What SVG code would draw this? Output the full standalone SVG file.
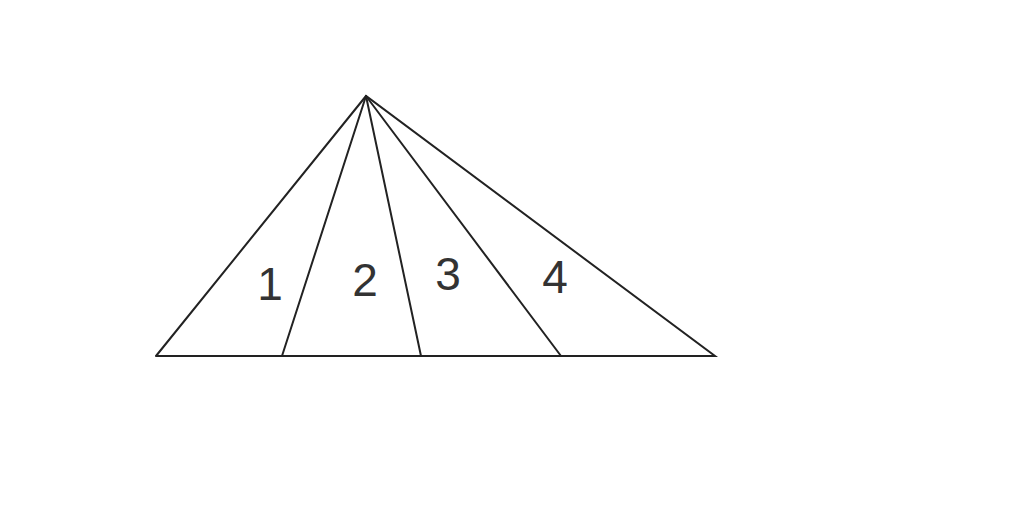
<svg xmlns="http://www.w3.org/2000/svg" width="1024" height="526" viewBox="0 0 1024 526">
<style>
.l{stroke:#222;stroke-width:2;fill:none;stroke-linecap:round}
.t{font-family:"Liberation Sans",Arial,sans-serif;font-size:46px;fill:#333;text-anchor:middle}
</style>
<rect width="1024" height="526" fill="#fff"/>
<g id="connectors">
<polyline class="l" points="156,356 366,96 715,356 156,356"/>
<line class="l" x1="366" y1="96" x2="282" y2="356"/>
<line class="l" x1="366" y1="96" x2="421" y2="356"/>
<line class="l" x1="366" y1="96" x2="561" y2="356"/>
</g>
<g id="labels">
<text class="t" x="270" y="300">1</text>
<text class="t" x="365" y="296">2</text>
<text class="t" x="448" y="290">3</text>
<text class="t" x="555" y="293">4</text>
</g>
</svg>
